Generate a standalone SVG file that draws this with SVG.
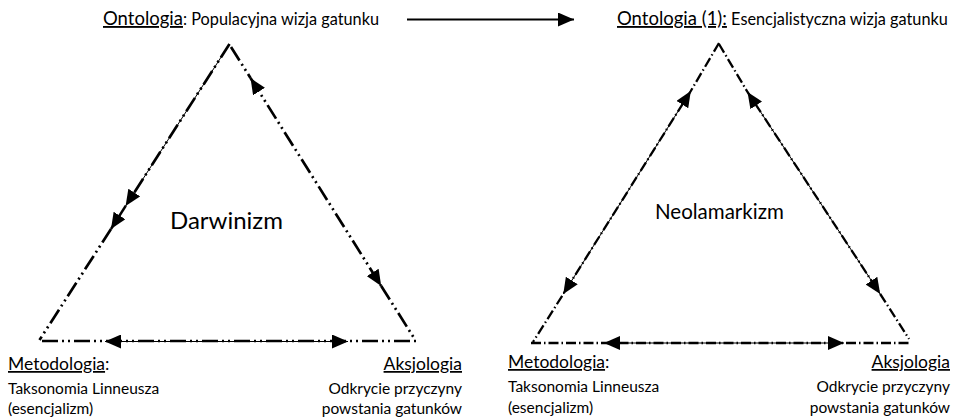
<svg xmlns="http://www.w3.org/2000/svg" width="954" height="420" viewBox="0 0 954 420">
<defs>
<style>
.t{font-family:Lato,"Open Sans",sans-serif;fill:#000}
.h{font-size:18.5px}
.s{font-size:16.3px}
.bh{font-size:17.5px}
.bs{font-size:15.5px}
.u{text-decoration:underline}
.e{fill:none;stroke:#000;stroke-linecap:butt}
.l1{stroke-width:2.7;stroke-dasharray:16 4 2 4 2 4}
.l2{stroke-width:2.3;stroke-dasharray:10 3 1.5 3}
</style>
<marker id="ah" viewBox="0 0 16 14" refX="16" refY="7" markerWidth="16" markerHeight="14" markerUnits="userSpaceOnUse" orient="auto-start-reverse">
<path d="M0,0 L16,7 L0,14 z" fill="#000"/>
</marker>
</defs>
<rect width="954" height="420" fill="#fff"/>
<g id="connectors">
<path class="e" d="M407,19.5 H574" stroke-width="2.2" marker-end="url(#ah)"/>
<path class="e l1" d="M229.5,44 L125.6,206"/>
<path class="e" d="M229.5,44 L125.6,206" stroke="none" marker-end="url(#ah)"/>
<path class="e" d="M125.6,206 L111,229" stroke-width="2.4" marker-end="url(#ah)"/>
<path class="e l1" d="M111,229 L39.5,340"/>
<path class="e l1" d="M231,47 L250.5,78"/>
<path class="e l1" d="M250.5,78 L381.2,286" marker-start="url(#ah)" marker-end="url(#ah)"/>
<path class="e l1" d="M381.2,286 L414,338"/>
<path class="e l1" d="M42,341 L417,341"/>
<path class="e" d="M105,341.5 L348,341.5" stroke="none" marker-start="url(#ah)" marker-end="url(#ah)"/>
<path class="e l2" d="M719,43 L690.8,91 L563.3,294 L533,342"/>
<path class="e" d="M690.8,91 L563.3,294" stroke="none" marker-start="url(#ah)" marker-end="url(#ah)"/>
<path class="e l2" d="M719,44 L747.5,92 L880.2,294 L909,339"/>
<path class="e" d="M747.5,92 L880.2,294" stroke="none" marker-start="url(#ah)" marker-end="url(#ah)"/>
<path class="e l2" d="M531,343 L910,343"/>
<path class="e" d="M604,343 L844,343" stroke="none" marker-start="url(#ah)" marker-end="url(#ah)"/>
</g>
<g id="ontologia-left">
<text class="t" x="103" y="25"><tspan class="h u">Ontologia</tspan><tspan class="s">: Populacyjna wizja gatunku</tspan></text>
</g>
<g id="ontologia-right">
<text class="t" x="617" y="25"><tspan class="h u">Ontologia (1):</tspan><tspan class="s"> Esencjalistyczna wizja gatunku</tspan></text>
</g>
<g id="darwinizm">
<text class="t" x="170" y="229" font-size="24">Darwinizm</text>
</g>
<g id="neolamarkizm">
<text class="t" x="655" y="219" font-size="20.5">Neolamarkizm</text>
</g>
<g id="metodologia-left">
<text class="t bh" x="8" y="370"><tspan class="u">Metodologia</tspan>:</text>
<text class="t bs" x="8" y="394">Taksonomia Linneusza</text>
<text class="t bs" x="8" y="414">(esencjalizm)</text>
</g>
<g id="aksjologia-left">
<text class="t bh u" x="462" y="370" text-anchor="end">Aksjologia</text>
<text class="t bs" x="462" y="394" text-anchor="end">Odkrycie przyczyny</text>
<text class="t bs" x="462" y="414" text-anchor="end">powstania gatunków</text>
</g>
<g id="metodologia-right">
<text class="t bh" x="508" y="368"><tspan class="u">Metodologia</tspan>:</text>
<text class="t bs" x="508" y="392">Taksonomia Linneusza</text>
<text class="t bs" x="508" y="413">(esencjalizm)</text>
</g>
<g id="aksjologia-right">
<text class="t bh u" x="950" y="368" text-anchor="end">Aksjologia</text>
<text class="t bs" x="950" y="392" text-anchor="end">Odkrycie przyczyny</text>
<text class="t bs" x="950" y="413" text-anchor="end">powstania gatunków</text>
</g>
</svg>
